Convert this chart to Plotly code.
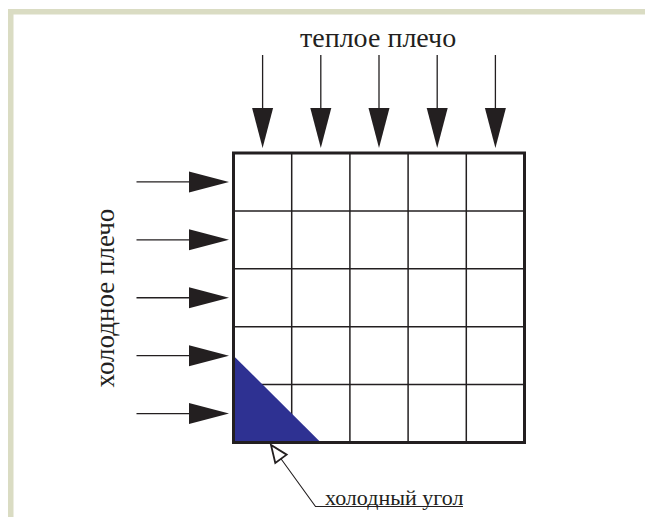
import math
import plotly.graph_objects as go

# ---- diagram data ----
n_cells = 5                      # grid is n_cells x n_cells
grid_left, grid_top = 233.5, 153.0
grid_right, grid_bottom = 524.5, 442.5
cold_corner_frac = [1.5, 1.5]    # blue triangle legs (in cells): along x, along y
top_label = "теплое плечо"
left_label = "холодное плечо"
corner_label = "холодный угол"

W, H = 645, 517
ink = "#231f20"
blue = "#2e3192"
frame = "#dadcc3"
font = "Liberation Serif"

cw = (grid_right - grid_left) / n_cells
ch = (grid_bottom - grid_top) / n_cells

shapes = []
# page frame (top and left bands)
shapes.append(dict(type="rect", x0=8, x1=W + 5, y0=9, y1=14.5, fillcolor=frame, line_width=0, layer="below"))
shapes.append(dict(type="rect", x0=8, x1=13.5, y0=9, y1=H + 5, fillcolor=frame, line_width=0, layer="below"))

# inner grid lines
for i in range(1, n_cells):
    x = grid_left + i * cw
    shapes.append(dict(type="line", x0=x, x1=x, y0=grid_top, y1=grid_bottom, line=dict(color=ink, width=1.5)))
    y = grid_top + i * ch
    shapes.append(dict(type="line", x0=grid_left, x1=grid_right, y0=y, y1=y, line=dict(color=ink, width=1.5)))

# cold corner triangle
tx = grid_left + cold_corner_frac[0] * cw
ty = grid_bottom - cold_corner_frac[1] * ch
shapes.append(dict(type="path", path=f"M {grid_left},{ty} L {grid_left},{grid_bottom} L {tx},{grid_bottom} Z",
                   fillcolor=blue, line_width=0))

# outer border
shapes.append(dict(type="rect", x0=grid_left, x1=grid_right, y0=grid_top, y1=grid_bottom,
                   line=dict(color=ink, width=3)))

# top arrows (warm side)
head_len, head_half = 40, 10.5
for i in range(n_cells):
    x = grid_left + (i + 0.5) * cw
    tip = grid_top - 5
    shapes.append(dict(type="line", x0=x, x1=x, y0=55, y1=tip - head_len + 2, line=dict(color=ink, width=1.3)))
    shapes.append(dict(type="path", path=f"M {x-head_half},{tip-head_len} L {x+head_half},{tip-head_len} L {x},{tip} Z",
                       fillcolor=ink, line_width=0))

# left arrows (cold side)
for i in range(n_cells):
    y = grid_top + (i + 0.5) * ch
    tip = grid_left - 4.5
    shapes.append(dict(type="line", x0=136.5, x1=tip - head_len + 2, y0=y, y1=y, line=dict(color=ink, width=1.3)))
    shapes.append(dict(type="path", path=f"M {tip-head_len},{y-head_half} L {tip-head_len},{y+head_half} L {tip},{y} Z",
                       fillcolor=ink, line_width=0))

# leader with hollow arrowhead to the cold corner
tip_pt = (271.0, 445.0)
elbow = (315.5, 506.5)
line_end_x = 463.0
dx, dy = elbow[0] - tip_pt[0], elbow[1] - tip_pt[1]
L = math.hypot(dx, dy)
ux, uy = dx / L, dy / L
px, py = -uy, ux
hl, hw = 17, 7
bx, by = tip_pt[0] + hl * ux, tip_pt[1] + hl * uy
shapes.append(dict(type="path", path=f"M {bx},{by} L {elbow[0]},{elbow[1]} L {line_end_x},{elbow[1]}",
                   line=dict(color=ink, width=1.1)))
shapes.append(dict(type="path",
                   path=f"M {tip_pt[0]},{tip_pt[1]} L {bx+hw*px},{by+hw*py} L {bx-hw*px},{by-hw*py} Z",
                   fillcolor="white", line=dict(color=ink, width=1.8)))

annotations = [
    dict(x=377.5, y=37, text=top_label, showarrow=False, xanchor="center", yanchor="middle",
         font=dict(family=font, size=28, color=ink)),
    dict(x=104, y=298.5, text=left_label, showarrow=False, textangle=-90, xanchor="center", yanchor="middle",
         font=dict(family=font, size=27, color=ink)),
    dict(x=394, y=497, text=corner_label, showarrow=False, xanchor="center", yanchor="middle",
         font=dict(family=font, size=22, color=ink)),
]

fig = go.Figure()
fig.update_layout(
    width=W, height=H, margin=dict(l=0, r=0, t=0, b=0),
    paper_bgcolor="white", plot_bgcolor="white",
    xaxis=dict(range=[0, W], visible=False, fixedrange=True),
    yaxis=dict(range=[H, 0], visible=False, fixedrange=True),
    shapes=shapes, annotations=annotations, showlegend=False,
)
fig.write_html("out.html", config={"displayModeBar": False},
               post_script="document.body.style.margin='0';document.body.style.overflow='hidden';")
